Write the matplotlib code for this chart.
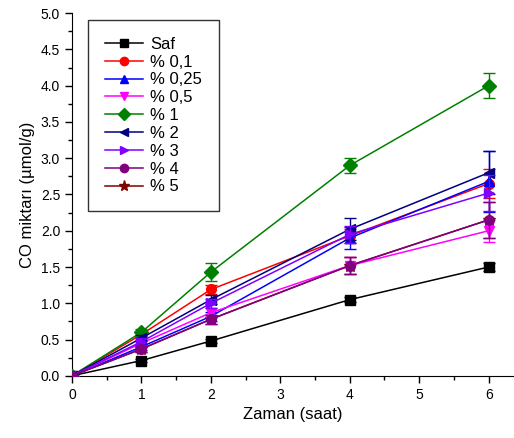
import matplotlib
matplotlib.use('Agg')
import matplotlib.pyplot as plt
from matplotlib.ticker import MultipleLocator
from matplotlib.lines import Line2D

plt.rcParams['font.family'] = ['Liberation Sans', 'DejaVu Sans']

zaman = [0, 1, 2, 4, 6]
labels = ['Saf', '% 0,1', '% 0,25', '% 0,5', '% 1', '% 2', '% 3', '% 4', '% 5']
colors = ['black', 'red', 'blue', 'magenta', 'green', 'navy', '#8000ff', 'purple', '#800000']
markers = ['s', 'o', '^', 'v', 'D', '<', '>', 'o', '*']

saf = [0, 0.21, 0.48, 1.05, 1.50]
p01 = [0, 0.57, 1.19, 1.93, 2.65]
p025 = [0, 0.40, 0.82, 1.90, 2.68]
p05 = [0, 0.45, 0.87, 1.52, 2.00]
p1 = [0, 0.60, 1.43, 2.90, 4.00]
p2 = [0, 0.52, 1.05, 2.02, 2.80]
p3 = [0, 0.47, 1.00, 1.95, 2.52]
p4 = [0, 0.37, 0.78, 1.52, 2.15]
p5 = [0, 0.37, 0.78, 1.52, 2.15]

err_saf = [0, 0.02, 0.03, 0.03, 0.06]
err_p01 = [0, 0.04, 0.06, 0.10, 0.20]
err_p025 = [0, 0.04, 0.06, 0.15, 0.42]
err_p05 = [0, 0.04, 0.06, 0.12, 0.15]
err_p1 = [0, 0.05, 0.12, 0.10, 0.17]
err_p2 = [0, 0.04, 0.06, 0.15, 0.30]
err_p3 = [0, 0.05, 0.06, 0.12, 0.25]
err_p4 = [0, 0.04, 0.06, 0.12, 0.25]
err_p5 = [0, 0.04, 0.06, 0.12, 0.25]

series = [saf, p01, p025, p05, p1, p2, p3, p4, p5]
errors = [err_saf, err_p01, err_p025, err_p05, err_p1, err_p2, err_p3, err_p4, err_p5]
# % 5 lies under the other series, so it is drawn first
zorders = [3, 4, 5, 6, 7, 8, 9, 10, 2]

fig = plt.figure(figsize=(5.14, 4.38), dpi=100)
ax = fig.add_axes([0.140, 0.142, 0.858, 0.828])

for i in range(9):
    ms = 9 if markers[i] == '*' else 7
    ax.errorbar(zaman, series[i], yerr=errors[i], color=colors[i], marker=markers[i],
                markersize=ms, linewidth=1.1, elinewidth=1.0, capsize=4, capthick=1.0,
                ecolor=colors[i], zorder=zorders[i])

ax.set_xlim(0, 6.35)
ax.set_ylim(0, 5.0)
ax.xaxis.set_major_locator(MultipleLocator(1))
ax.xaxis.set_minor_locator(MultipleLocator(0.5))
ax.yaxis.set_major_locator(MultipleLocator(0.5))
ax.yaxis.set_minor_locator(MultipleLocator(0.25))
ax.yaxis.set_major_formatter(matplotlib.ticker.FormatStrFormatter('%.1f'))
ax.tick_params(which='major', direction='out', length=5, width=1, labelsize=10)
ax.tick_params(which='minor', direction='out', length=3, width=1)
ax.spines['top'].set_visible(False)
ax.spines['right'].set_visible(False)
ax.set_xlabel('Zaman (saat)', fontsize=12)
ax.set_ylabel('CO miktarı (µmol/g)', fontsize=12)

handles = [Line2D([], [], color=colors[i], marker=markers[i], linewidth=1.1,
                  markersize=8 if markers[i] == '*' else 6) for i in range(9)]
leg = ax.legend(handles, labels, loc='upper left', bbox_to_anchor=(0.036, 0.981),
                fontsize=12, frameon=True, fancybox=False, edgecolor='black',
                handlelength=2.3, handletextpad=0.45, labelspacing=0.17, borderpad=1.0,
                borderaxespad=0)
leg.get_frame().set_linewidth(1.0)

fig.savefig('out.png', dpi=100)
